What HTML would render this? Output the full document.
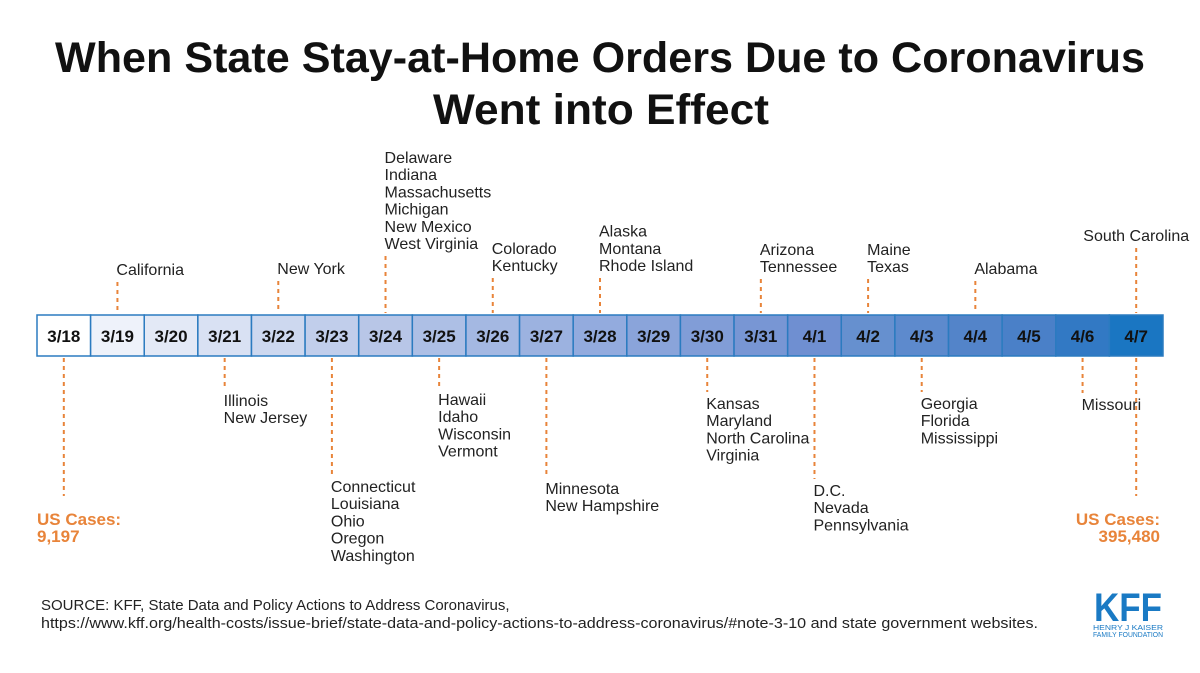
<!DOCTYPE html>
<html><head><meta charset="utf-8"><style>
html,body{margin:0;padding:0;background:#fff;}
svg{display:block;font-family:"Liberation Sans",sans-serif;}
</style></head><body>
<svg id="chart" width="1200" height="673" viewBox="0 0 1200 673">
<text x="600" y="72" text-anchor="middle" font-size="43" font-weight="bold" fill="#111" textLength="1090" lengthAdjust="spacingAndGlyphs">When State Stay-at-Home Orders Due to Coronavirus</text>
<text x="601" y="124" text-anchor="middle" font-size="43" font-weight="bold" fill="#111" textLength="336" lengthAdjust="spacingAndGlyphs">Went into Effect</text>
<g id="marks"></g>
<text x="41" y="610" font-size="15" fill="#222">SOURCE: KFF, State Data and Policy Actions to Address Coronavirus,</text>
<text x="41" y="628" font-size="15" fill="#222" textLength="997" lengthAdjust="spacingAndGlyphs">https://www.kff.org/health-costs/issue-brief/state-data-and-policy-actions-to-address-coronavirus/#note-3-10 and state government websites.</text>
<g>
<text x="1128" y="621" text-anchor="middle" font-size="40" font-weight="bold" fill="#1a7ac4" textLength="68" lengthAdjust="spacingAndGlyphs">KFF</text>
<text x="1128" y="630" text-anchor="middle" font-size="7" fill="#1a7ac4" textLength="70" lengthAdjust="spacingAndGlyphs">HENRY J KAISER</text>
<text x="1128" y="637" text-anchor="middle" font-size="7" fill="#1a7ac4" textLength="70" lengthAdjust="spacingAndGlyphs">FAMILY FOUNDATION</text>
</g>
</svg>
<script>
const dates = ["3/18","3/19","3/20","3/21","3/22","3/23","3/24","3/25","3/26","3/27","3/28","3/29","3/30","3/31","4/1","4/2","4/3","4/4","4/5","4/6","4/7"];
const cellColors = ["#ffffff","#eef2fa","#e3e9f6","#d9e1f3","#cdd8ef","#c1ceeb","#b8c6e7","#adbfe5","#a4b8e2","#9cb2e0","#93abde","#8aa4da","#819dd7","#7896d4","#6f8fd1","#6690cf","#5d8acd","#5384c9","#4a80c8","#3279c4","#1a76c2"];
const aboveDates = ["3/19","3/22","3/24","3/26","3/28","3/31","4/2","4/4","4/7"];
const aboveStates = [["California"],["New York"],["Delaware","Indiana","Massachusetts","Michigan","New Mexico","West Virginia"],["Colorado","Kentucky"],["Alaska","Montana","Rhode Island"],["Arizona","Tennessee"],["Maine","Texas"],["Alabama"],["South Carolina"]];
const belowDates = ["3/21","3/23","3/25","3/27","3/30","4/1","4/3","4/6"];
const belowStates = [["Illinois","New Jersey"],["Connecticut","Louisiana","Ohio","Oregon","Washington"],["Hawaii","Idaho","Wisconsin","Vermont"],["Minnesota","New Hampshire"],["Kansas","Maryland","North Carolina","Virginia"],["D.C.","Nevada","Pennsylvania"],["Georgia","Florida","Mississippi"],["Missouri"]];
const belowFirstLine = [401,487,400,489,404,491,404,405];
const caseLabels = ["US Cases:","9,197","US Cases:","395,480"];

const NS="http://www.w3.org/2000/svg";
const g=document.getElementById('marks');
const X0=37,X1=1163,BT=315,BB=356,LH=17.2,ORANGE="#e8843a";
const cw=(X1-X0)/dates.length;
const xc=d=>X0+cw*(dates.indexOf(d)+0.5);
function mk(t,a){const e=document.createElementNS(NS,t);for(const k in a)e.setAttribute(k,a[k]);g.appendChild(e);return e;}
dates.forEach((d,i)=>{
  const r=mk('rect',{x:X0+cw*i,y:BT,width:cw,height:BB-BT,fill:cellColors[i],stroke:"#2b7bc0","stroke-width":1.5});
  
  
  const t=mk('text',{x:X0+cw*(i+0.5),y:342,"text-anchor":"middle","font-size":17,"font-weight":"bold",fill:"#111"});
  t.textContent=d;
  
  
});
function dash(x,y1,y2){const l=mk('line',{x1:x,x2:x,y1:y1,y2:y2,stroke:ORANGE,"stroke-width":2,"stroke-dasharray":"4,4"});
  
  }
function lines(x,y0,arr,anchor,extra){arr.forEach((s,j)=>{const t=mk('text',Object.assign({x:x,y:y0+j*LH,"font-size":16,fill:"#222","text-anchor":anchor||"start"},extra||{}));t.textContent=s;
  
  });}
aboveDates.forEach((d,i)=>{
  const n=aboveStates[i].length;const x=xc(d);
  const bottom=[275,274,249,271,271,272,272,274,241][i];
  lines(d==="4/7"?x:x-1,bottom-(n-1)*LH,aboveStates[i],d==="4/7"?"middle":"start");
  dash(x,bottom+7,BT-2);
});
belowDates.forEach((d,i)=>{
  const x=xc(d);const y0=belowFirstLine[i]+5;
  dash(x,BB+2,y0-17);
  lines(x-1,y0,belowStates[i]);
});
dash(xc("3/18"),BB+2,496);dash(xc("4/7"),BB+2,496);
lines(37,525,caseLabels.slice(0,2),"start",{"font-weight":"bold",fill:ORANGE,"font-size":17});
lines(1160,525,caseLabels.slice(2,4),"end",{"font-weight":"bold",fill:ORANGE,"font-size":17});
</script>
</body></html>
